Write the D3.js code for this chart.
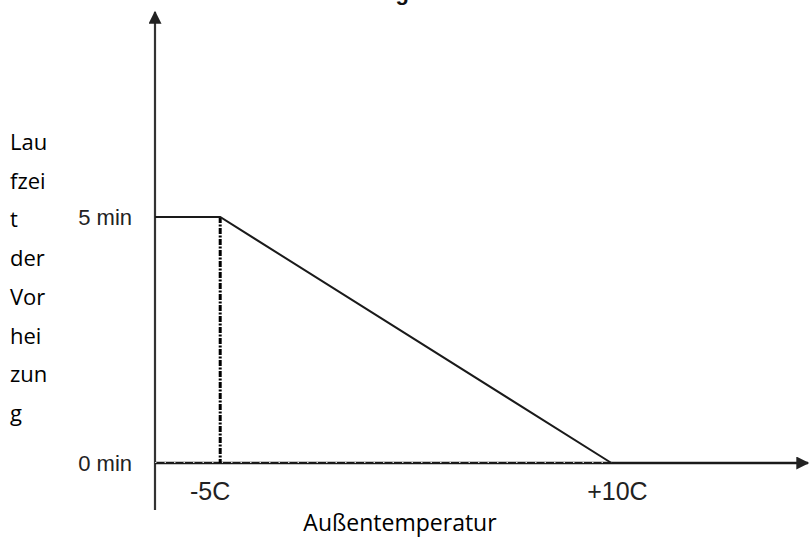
<!DOCTYPE html>
<html>
<head>
<meta charset="utf-8">
<script src="https://cdn.jsdelivr.net/npm/d3@7"></script>
<style>
  body { margin: 0; background: #fff; }
  svg { display: block; }
</style>
</head>
<body>
<svg id="chart" width="810" height="538"></svg>
<script>
    // curve points: outside temperature (C) -> preheat runtime (min)
    var temps = [-7.5, -5, 10];
    var runtime = [5, 5, 0];
    var xTicks = [-5, 10];
    var xTickLabels = ['-5C', '+10C'];
    var yTicks = [0, 5];
    var yTickLabels = ['0 min', '5 min'];
    var yTitleLines = ['Lau', 'fzei', 't', 'der', 'Vor', 'hei', 'zun', 'g'];

    var svg = d3.select('#chart');

    var x = d3.scaleLinear().domain([-7.5, 17.5]).range([155, 807]);
    var y = d3.scaleLinear().domain([0, 5]).range([463, 217]);

    // title, cut off at the top edge like in the original
    svg.append('text')
        .attr('x', 55)
        .attr('y', -0.3)
        .attr('font-family', 'Liberation Sans, Arial, sans-serif')
        .attr('font-size', 22)
        .attr('font-weight', 'bold')
        .attr('fill', '#111')
        .text('Laufzeit-Kennlinie der Vorheizung');

    var defs = svg.append('defs');
    defs.append('marker')
        .attr('id', 'arrow')
        .attr('viewBox', '0 0 10 10')
        .attr('refX', 9)
        .attr('refY', 5)
        .attr('markerUnits', 'userSpaceOnUse')
        .attr('markerWidth', 18)
        .attr('markerHeight', 13)
        .attr('orient', 'auto')
        .append('path')
        .attr('d', 'M0,0L10,5L0,10Z')
        .attr('fill', '#222');

    // y axis line with arrow
    svg.append('line')
        .attr('x1', x(-7.5)).attr('y1', 510)
        .attr('x2', x(-7.5)).attr('y2', 12)
        .attr('stroke', '#333')
        .attr('stroke-width', 2.2)
        .attr('marker-end', 'url(#arrow)');

    // x axis line with arrow
    svg.append('line')
        .attr('x1', x(-7.5)).attr('y1', y(0))
        .attr('x2', 808).attr('y2', y(0))
        .attr('stroke', '#1a1a1a')
        .attr('stroke-width', 2.6)
        .attr('marker-end', 'url(#arrow)');

    // dashed line along the x axis up to +10C
    svg.append('line')
        .attr('x1', x(-7.5)).attr('y1', y(0) - 0.5)
        .attr('x2', x(10)).attr('y2', y(0) - 0.5)
        .attr('stroke', '#fff')
        .attr('stroke-width', 0.8)
        .attr('stroke-dasharray', '1.5,8');

    // dash-dot drop line at -5C
    svg.append('line')
        .attr('x1', x(-5)).attr('y1', y(5))
        .attr('x2', x(-5)).attr('y2', y(0))
        .attr('stroke', '#000')
        .attr('stroke-width', 3)
        .attr('stroke-dasharray', '6,1.5,2,1.5');

    // the curve
    var line = d3.line()
        .x(function (d, i) { return x(temps[i]); })
        .y(function (d) { return y(d); });

    svg.append('path')
        .datum(runtime)
        .attr('d', line)
        .attr('fill', 'none')
        .attr('stroke', '#1a1a1a')
        .attr('stroke-width', 2);

    // y tick labels
    svg.selectAll('.ytick')
        .data(yTicks)
        .enter().append('text')
        .attr('class', 'ytick')
        .attr('x', 132)
        .attr('y', function (d) { return y(d) + 8; })
        .attr('text-anchor', 'end')
        .attr('font-family', 'Liberation Sans, Arial, sans-serif')
        .attr('font-size', 22)
        .attr('fill', '#222')
        .text(function (d, i) { return yTickLabels[i]; });

    // x tick labels
    svg.selectAll('.xtick')
        .data(xTicks)
        .enter().append('text')
        .attr('class', 'xtick')
        .attr('x', function (d) { return x(d) + (d < 0 ? -10 : 6); })
        .attr('y', 500)
        .attr('text-anchor', 'middle')
        .attr('font-family', 'Liberation Sans, Arial, sans-serif')
        .attr('font-size', 25)
        .attr('fill', '#222')
        .text(function (d, i) { return xTickLabels[i]; });

    // x axis title
    svg.append('text')
        .attr('x', 400)
        .attr('y', 531)
        .attr('text-anchor', 'middle')
        .attr('font-family', 'Open Sans, Noto Sans, sans-serif')
        .attr('font-size', 23)
        .attr('fill', '#000')
        .text('Außentemperatur');

    // y axis title, broken into short lines
    svg.selectAll('.ytitle')
        .data(yTitleLines)
        .enter().append('text')
        .attr('class', 'ytitle')
        .attr('x', 10)
        .attr('y', function (d, i) { return 150 + i * 38.7; })
        .attr('font-family', 'Open Sans, Noto Sans, sans-serif')
        .attr('font-size', 22)
        .attr('fill', '#000')
        .text(function (d) { return d; });
</script>
</body>
</html>
